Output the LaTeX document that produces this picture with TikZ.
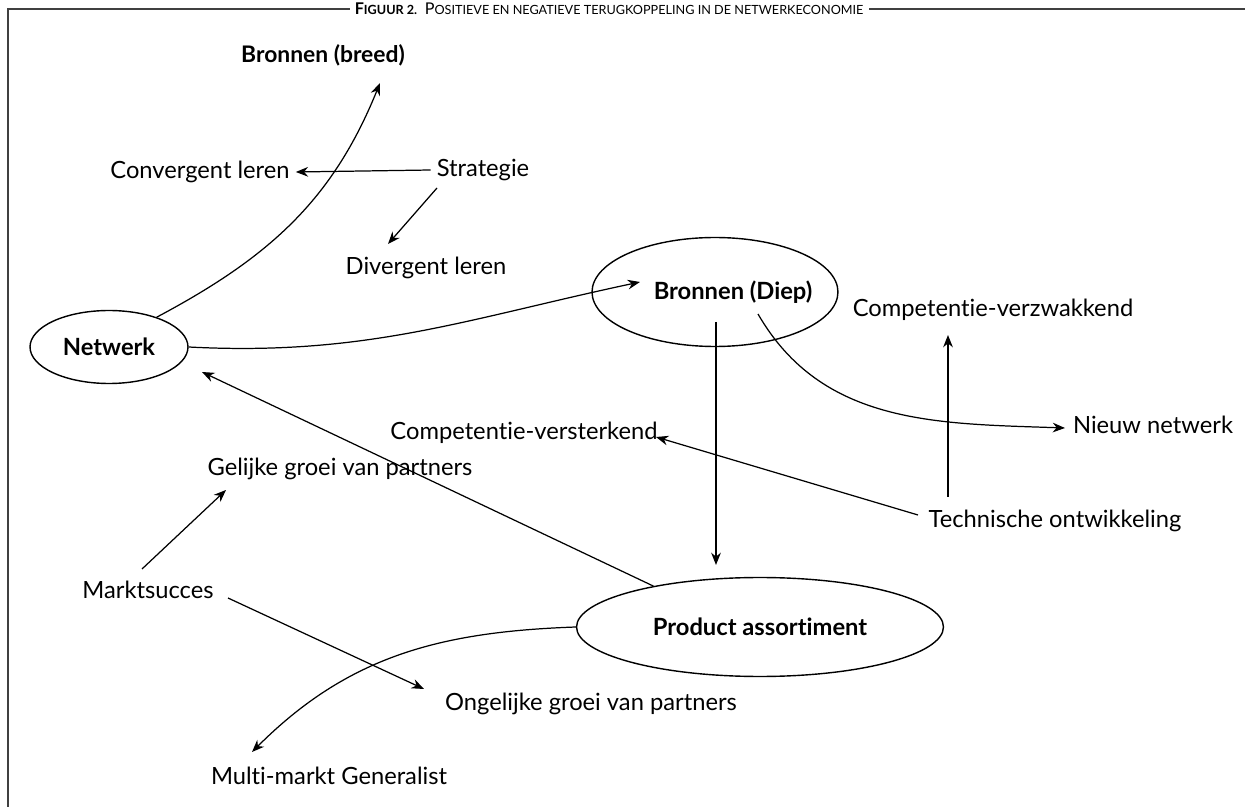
\documentclass[tikz,border=0pt]{standalone}
\usepackage{fontspec}
\setmainfont{Lato}[Ligatures=NoCommon]
\usetikzlibrary{arrows.meta,calc,shapes.geometric}

\newcommand{\capbig}[1]{{\fontsize{9.2}{9}\selectfont #1}}
\newcommand{\capsmall}[1]{{\fontsize{7.2}{7}\selectfont #1}}

\begin{document}
\begin{tikzpicture}[x=0.02cm,y=-0.02cm,
    font=\fontsize{13.5}{15}\selectfont,
    hub/.style={ellipse,draw,line width=0.8pt,inner sep=0pt,font=\fontsize{13.5}{15}\selectfont\bfseries},
    arr/.style={-{Stealth[length=7pt,width=5.5pt]},line width=0.7pt}]

\useasboundingbox (0,0) rectangle (1245,807);

% Frame
\draw[black!75,line width=0.9pt] (8,807)--(8,9)--(1245,9);
\node[fill=white,inner xsep=3pt,inner ysep=1pt] (title) at (609,9)
  {\bfseries\capbig{F}\capsmall{IGUUR 2.} \mdseries\capbig{P}\capsmall{OSITIEVE EN NEGATIEVE TERUGKOPPELING IN DE NETWERKECONOMIE}};

% Top: strategie
\node[font=\fontsize{13}{15}\selectfont\bfseries] (breed) at (323,55) {Bronnen (breed)};
\node (conv) at (200,172) {Convergent leren};
\node (strat) at (483,170) {Strategie};
\node (div) at (426,268) {Divergent leren};

% Ellipses
\node[hub,minimum width=3.16cm,minimum height=1.46cm] (net) at (109,347) {Netwerk};
\node[hub,minimum width=4.92cm,minimum height=2.18cm,
      label={[xshift=0.36cm,font=\fontsize{13.5}{15}\selectfont\bfseries]center:Bronnen (Diep)}] (diep) at (715,292) {};
\node[hub,minimum width=7.34cm,minimum height=1.98cm] (prod) at (760,627) {Product assortiment};

% Right: techniek
\node (verzw) at (993,310) {Competentie-verzwakkend};
\node (nieuw) at (1153,425) {Nieuw netwerk};
\node (verst) at (524,433) {Competentie-versterkend};
\node (tech) at (1055,521) {Technische ontwikkeling};

% Bottom: markt
\node (gel) at (340,469) {Gelijke groei van partners};
\node (markt) at (148,590) {Marktsucces};
\node (onge) at (591,704) {Ongelijke groei van partners};
\node (multi) at (329,776) {Multi-markt Generalist};

% Arrows
\draw[arr] (net.32) to[out=28,in=-112] ($(breed.center)+(57,28)$);
\draw[arr] (strat.west) -- (conv.east);
\draw[arr] ($(strat.center)+(-46,18)$) -- ($(div.center)+(-38,-24)$);
\draw[arr] (net.east) to[out=-3,in=192] ($(diep.center)+(-75,-10)$);
\draw[arr] ($(diep.center)+(1,30)$) -- ($(prod.center)+(-44,-62)$);
\draw[arr] ($(diep.center)+(43,22)$) to[out=-60,in=178] ($(nieuw.center)+(-88,3)$);
\draw[arr] ($(tech.center)+(-107,-24)$) -- ($(verzw.center)+(-45,25)$);
\draw[arr] ($(tech.center)+(-137,-6)$) -- ($(verst.center)+(132,4)$);
\draw[arr] (prod.159) -- ($(net.center)+(93,25)$);
\draw[arr] ($(markt.center)+(-6,-21)$) -- ($(gel.center)+(-114,21)$);
\draw[arr] ($(markt.center)+(80,8)$) -- ($(onge.center)+(-167,-15)$);
\draw[arr] (prod.west) to[out=182,in=45] ($(multi.center)+(-77,-24)$);

\end{tikzpicture}
\end{document}
